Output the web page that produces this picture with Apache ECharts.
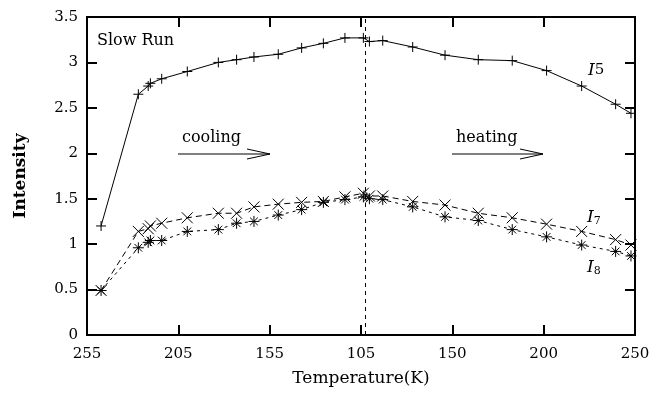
<!DOCTYPE html>
<html>
<head>
<meta charset="utf-8">
<script src="https://cdn.jsdelivr.net/npm/echarts@6/dist/echarts.min.js"></script>
<style>html,body{margin:0;padding:0;background:#fff}#c{width:667px;height:394px}</style>
</head>
<body>
<div id="c"></div>
<script>
// Position along the cooling→heating path (0 = 255 K, 150 = 105 K turning point, 300 = 250 K)
var pathPos = [7.7, 28.1, 33.5, 34.7, 40.9, 54.9, 71.9, 81.9, 91.4, 104.7, 117.5, 129.4, 141.2, 151.3, 154.6, 161.9, 178.3, 196, 214.2, 232.8, 251.6, 270.8, 289.4, 297.8];
var I5 = [1.20, 2.65, 2.74, 2.77, 2.82, 2.90, 3.00, 3.03, 3.06, 3.09, 3.16, 3.21, 3.27, 3.27, 3.23, 3.24, 3.17, 3.08, 3.03, 3.02, 2.91, 2.74, 2.54, 2.44];
var I7 = [0.49, 1.14, 1.17, 1.20, 1.23, 1.29, 1.34, 1.34, 1.41, 1.44, 1.46, 1.47, 1.52, 1.56, 1.53, 1.53, 1.47, 1.43, 1.34, 1.29, 1.22, 1.14, 1.05, 0.99];
var I8 = [0.49, 0.96, 1.02, 1.04, 1.04, 1.14, 1.16, 1.23, 1.25, 1.32, 1.38, 1.46, 1.49, 1.52, 1.50, 1.49, 1.41, 1.30, 1.26, 1.16, 1.08, 0.99, 0.92, 0.87];
var xTickLabels = ['255', '205', '155', '105', '150', '200', '250'];
var turnPos = 152.2;

function pairs(ys) { return pathPos.map(function (x, i) { return [x, ys[i]]; }); }

var FONT = 'DejaVu Serif';
var chart = echarts.init(document.getElementById('c'), null, { renderer: 'canvas' });

function axis(extra) {
  var a = {
    axisLine: { show: true, onZero: false, lineStyle: { color: '#000', width: 2 } },
    axisTick: { show: true, inside: true, length: 10, lineStyle: { color: '#000', width: 2 } },
    splitLine: { show: false }
  };
  for (var k in extra) a[k] = extra[k];
  return a;
}

var plusSym = 'path://M0,5L10,5M5,0L5,10';
var xSym = 'path://M0,0L10,10M0,10L10,0';
var starSym = 'path://M0,5L10,5M5,0L5,10M1.5,1.5L8.5,8.5M1.5,8.5L8.5,1.5';

chart.setOption({
  animation: false,
  backgroundColor: '#fff',
  grid: { left: 87, right: 32, top: 17, bottom: 59, show: true, borderColor: '#000', borderWidth: 2, backgroundColor: 'transparent' },
  xAxis: [
    axis({
      type: 'value', min: 0, max: 300, interval: 50, position: 'bottom', gridIndex: 0,
      axisLabel: { color: '#000', fontFamily: FONT, fontSize: 15, margin: 12,
        formatter: function (v) { return xTickLabels[Math.round(v / 50)] || ''; } },
      name: 'Temperature(K)', nameLocation: 'middle', nameGap: 35,
      nameTextStyle: { color: '#000', fontFamily: FONT, fontSize: 17 }
    }),
    axis({
      type: 'value', min: 0, max: 300, interval: 50, position: 'top', gridIndex: 0,
      axisLabel: { show: false }
    })
  ],
  yAxis: [
    axis({
      type: 'value', min: 0, max: 3.5, interval: 0.5, position: 'left', gridIndex: 0,
      axisLabel: { color: '#000', fontFamily: FONT, fontSize: 15, margin: 9 },
      name: 'Intensity', nameLocation: 'middle', nameGap: 58, nameRotate: 90,
      nameTextStyle: { color: '#000', fontFamily: FONT, fontSize: 17, fontWeight: 'bold' }
    }),
    axis({
      type: 'value', min: 0, max: 3.5, interval: 0.5, position: 'right', gridIndex: 0,
      axisLabel: { show: false }
    })
  ],
  series: [
    {
      name: 'I5', type: 'line', data: pairs(I5), xAxisIndex: 0, yAxisIndex: 0,
      symbol: plusSym, symbolSize: 10,
      itemStyle: { color: 'none', borderColor: '#000', borderWidth: 1 },
      lineStyle: { color: '#000', width: 1 },
      markLine: {
        silent: true, symbol: ['none', 'none'], label: { show: false },
        lineStyle: { color: '#000', type: [4, 4], width: 1 },
        data: [{ xAxis: turnPos }]
      }
    },
    {
      name: 'I7', type: 'line', data: pairs(I7), xAxisIndex: 0, yAxisIndex: 0,
      symbol: xSym, symbolSize: 11,
      itemStyle: { color: 'none', borderColor: '#000', borderWidth: 1 },
      lineStyle: { color: '#000', width: 1, type: [6, 4] }
    },
    {
      name: 'I8', type: 'line', data: pairs(I8), xAxisIndex: 0, yAxisIndex: 0,
      symbol: starSym, symbolSize: 11,
      itemStyle: { color: 'none', borderColor: '#000', borderWidth: 1 },
      lineStyle: { color: '#000', width: 1, type: [3, 4] }
    },
    // invisible series to bind the mirror axes so they are drawn
    { type: 'line', data: [], xAxisIndex: 1, yAxisIndex: 1, silent: true }
  ],
  graphic: [
    { type: 'text', left: 97, top: 33, style: { text: 'Slow Run', fill: '#000', font: '16px "DejaVu Serif"' } },
    { type: 'text', left: 182, top: 130, style: { text: 'cooling', fill: '#000', font: '16px "DejaVu Serif"' } },
    { type: 'polyline', shape: { points: [[178, 154], [270, 154]] }, style: { stroke: '#000', lineWidth: 1 } },
    { type: 'polyline', shape: { points: [[247, 149], [270, 154], [247, 159]] }, style: { stroke: '#000', lineWidth: 1, fill: 'none' } },
    { type: 'text', left: 456, top: 130, style: { text: 'heating', fill: '#000', font: '16px "DejaVu Serif"' } },
    { type: 'polyline', shape: { points: [[452, 154], [543, 154]] }, style: { stroke: '#000', lineWidth: 1 } },
    { type: 'polyline', shape: { points: [[520, 149], [543, 154], [520, 159]] }, style: { stroke: '#000', lineWidth: 1, fill: 'none' } },
    { type: 'text', left: 588, top: 62, style: { rich: { i: { fontFamily: FONT, fontStyle: 'italic', fontSize: 17, fill: '#000' }, s: { fontFamily: FONT, fontSize: 15, fill: '#000' } }, text: '{i|I}{s|5}' } },
    { type: 'text', left: 587, top: 209, style: { rich: { i: { fontFamily: FONT, fontStyle: 'italic', fontSize: 17, fill: '#000' }, s: { fontFamily: FONT, fontSize: 11, fill: '#000', padding: [8, 0, 0, 0] } }, text: '{i|I}{s|7}' } },
    { type: 'text', left: 587, top: 259, style: { rich: { i: { fontFamily: FONT, fontStyle: 'italic', fontSize: 17, fill: '#000' }, s: { fontFamily: FONT, fontSize: 11, fill: '#000', padding: [8, 0, 0, 0] } }, text: '{i|I}{s|8}' } }
  ]
});
</script>
</body>
</html>
